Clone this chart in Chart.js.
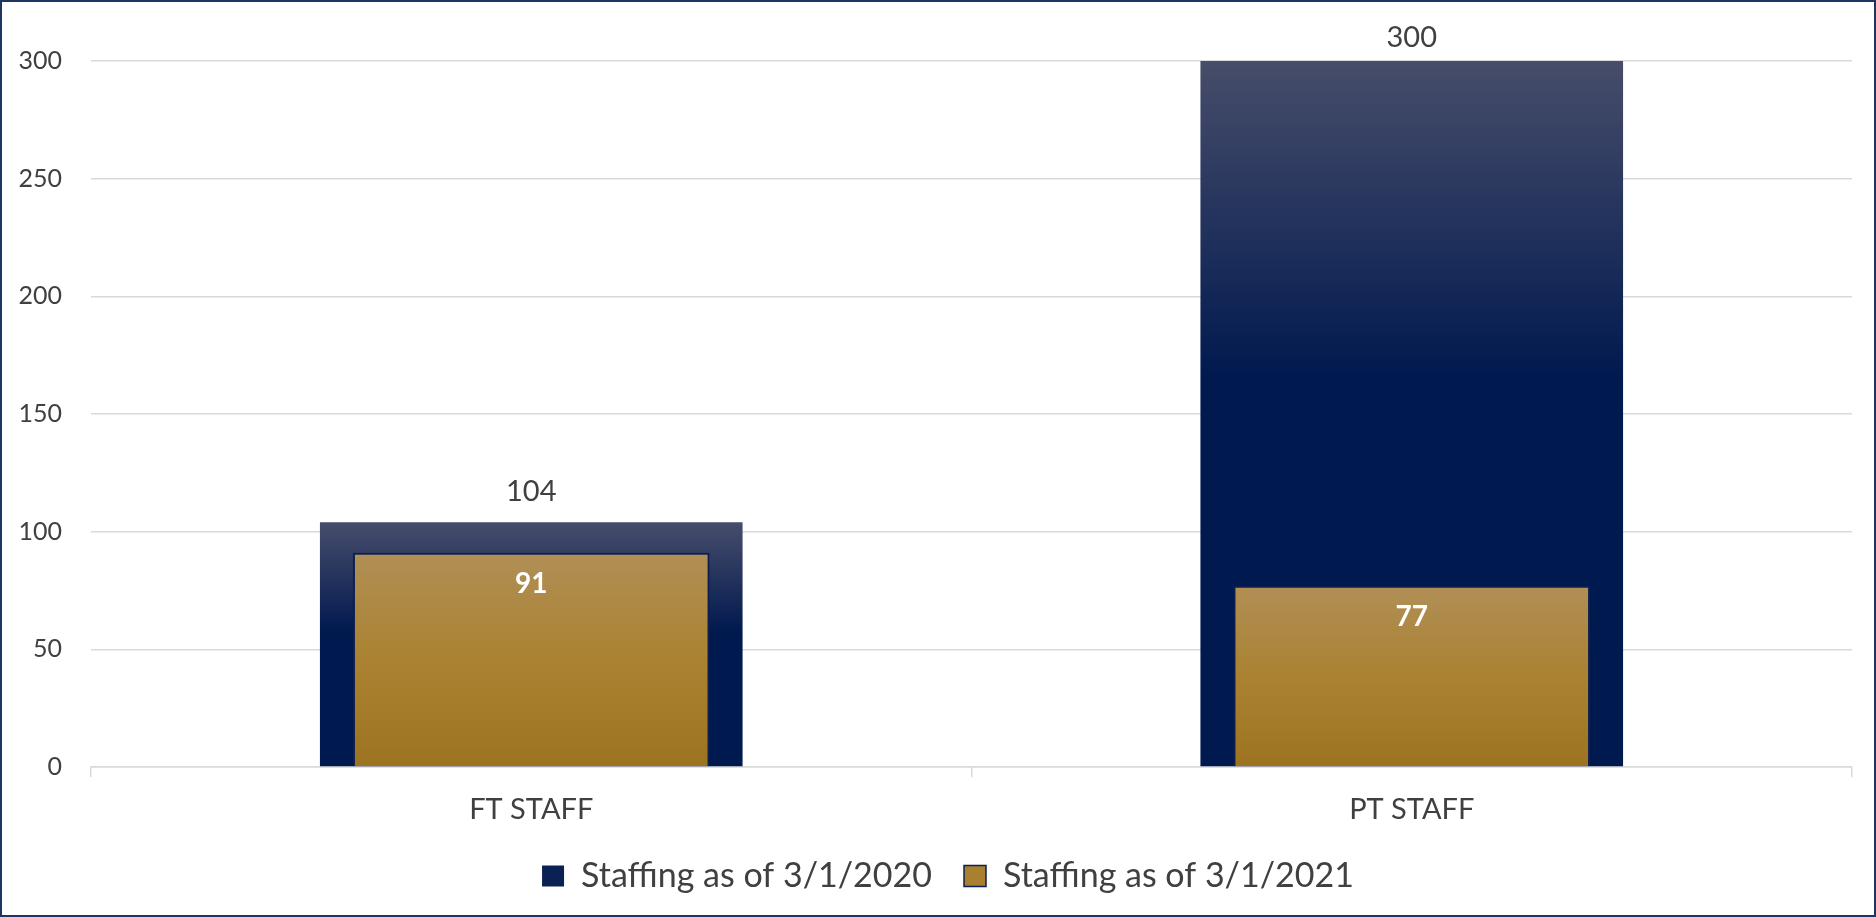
<!DOCTYPE html>
<html>
<head>
<meta charset="utf-8">
<title>Staffing</title>
<script src="https://cdn.jsdelivr.net/npm/chart.js@4.4.0/dist/chart.umd.min.js"></script>
<style>
    html, body { margin: 0; padding: 0; background: #fff; }
    #wrap { position: relative; width: 1876px; height: 917px; }
    #frame { position: absolute; left: 0; top: 0; right: 0; bottom: 0; border: 2px solid #1f3461; pointer-events: none; }
</style>
</head>
<body>
<div id="wrap">
    <canvas id="staff"></canvas>
    <div id="frame"></div>
</div>
<script>
// Data
const categories = ['FT STAFF', 'PT STAFF'];
const seriesNames = ['Staffing as of 3/1/2020', 'Staffing as of 3/1/2021'];
const staff2020 = [104, 300];
const staff2021 = [91, 77];
const yTicks = [0, 50, 100, 150, 200, 250, 300];

const textColor = '#404040';
const fontFamily = 'Lato, "Open Sans", sans-serif';

// vertical gradients, computed per bar from top of bar down to zero
const navyStops = [[0, '#474d6a'], [0.45, '#00194f'], [1, '#00194f']];
const goldStops = [[0, '#b18f56'], [0.5, '#aa8231'], [1, '#9c7421']];

function barFill(stops, flat) {
    return function (ctx) {
        const chart = ctx.chart;
        if (ctx.type !== 'data' || !chart.chartArea) return flat;
        const y = chart.scales.y;
        const top = y.getPixelForValue(ctx.raw);
        const base = y.getPixelForValue(0);
        const g = chart.ctx.createLinearGradient(0, top, 0, base);
        stops.forEach(function (s) { g.addColorStop(s[0], s[1]); });
        return g;
    };
}

// value labels: above the navy bars, inside the top of the gold bars
const valueLabels = {
    id: 'valueLabels',
    afterDatasetsDraw(chart) {
        const ctx = chart.ctx;
        ctx.save();
        ctx.textAlign = 'center';
        ctx.textBaseline = 'middle';
        chart.data.datasets.forEach(function (ds, i) {
            chart.getDatasetMeta(i).data.forEach(function (bar, j) {
                const v = ds.data[j];
                if (i === 0) {
                    ctx.font = '29px ' + fontFamily;
                    ctx.fillStyle = textColor;
                    ctx.fillText(v, bar.x, Math.max(bar.y - 31, chart.chartArea.top - 23));
                } else {
                    ctx.font = 'bold 28px ' + fontFamily;
                    ctx.fillStyle = '#ffffff';
                    ctx.fillText(v, bar.x, bar.y + 31);
                }
            });
        });
        ctx.restore();
    }
};

// legend sits a little right of the canvas centre
const legendNudge = {
    id: 'legendNudge',
    afterLayout(chart) {
        chart.legend.left += 22;
        chart.legend.right += 22;
    }
};

const legendFill = ['#0b2053', '#a8802f'];
const legendStroke = ['#0b2053', '#0c1f4f'];

const staffChart = new Chart(document.getElementById('staff'), {
    type: 'bar',
    data: {
        labels: categories,
        datasets: [{
            label: seriesNames[0],
            data: staff2020,
            order: 1,
            backgroundColor: barFill(navyStops, legendFill[0]),
            borderWidth: 0,
            barPercentage: 0.48
        }, {
            label: seriesNames[1],
            data: staff2021,
            order: 0,
            backgroundColor: barFill(goldStops, legendFill[1]),
            borderColor: '#0c1f4f',
            borderWidth: 2,
            barPercentage: 0.405
        }]
    },
    options: {
        responsive: true,
        maintainAspectRatio: false,
        animation: false,
        events: [],
        datasets: {
            bar: { grouped: false, categoryPercentage: 1 }
        },
        layout: {
            padding: { top: 61, right: 24, bottom: 14, left: 0 }
        },
        scales: {
            x: {
                afterFit: function (scale) { scale.height = 60; },
                grid: {
                    drawOnChartArea: false,
                    color: '#d9d9d9',
                    lineWidth: 1.5,
                    tickLength: 10
                },
                border: { color: '#d9d9d9', width: 1.5 },
                ticks: {
                    color: textColor,
                    padding: 15,
                    font: { family: fontFamily, size: 29 }
                }
            },
            y: {
                min: 0,
                max: 300,
                afterFit: function (scale) { scale.width = 91; },
                afterBuildTicks: function (axis) {
                    axis.ticks = yTicks.map(function (v) { return { value: v }; });
                },
                grid: { color: '#d9d9d9', lineWidth: 1.5, drawTicks: false },
                border: { display: false },
                ticks: {
                    color: textColor,
                    padding: 29,
                    font: { family: fontFamily, size: 25 }
                }
            }
        },
        plugins: {
            tooltip: { enabled: false },
            legend: {
                position: 'bottom',
                labels: {
                    color: textColor,
                    font: { family: fontFamily, size: 34 },
                    boxWidth: 22,
                    boxHeight: 21,
                    padding: 32,
                    generateLabels: function (chart) {
                        const items = Chart.defaults.plugins.legend.labels.generateLabels(chart);
                        items.sort(function (a, b) { return a.datasetIndex - b.datasetIndex; });
                        items.forEach(function (it) {
                            it.fillStyle = legendFill[it.datasetIndex];
                            it.strokeStyle = legendStroke[it.datasetIndex];
                            it.lineWidth = it.datasetIndex === 1 ? 1.5 : 0;
                        });
                        return items;
                    }
                }
            }
        }
    },
    plugins: [valueLabels, legendNudge]
});
</script>
</body>
</html>
